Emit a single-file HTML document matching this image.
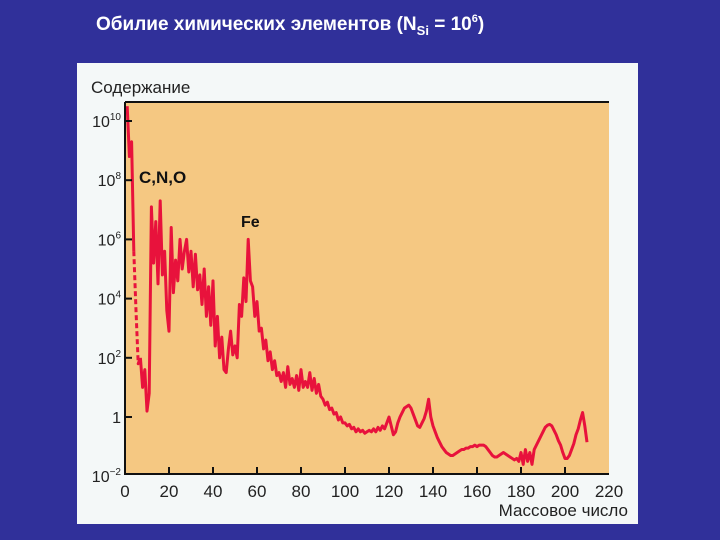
<!DOCTYPE html>
<html><head><meta charset="utf-8"><style>
body{margin:0;width:720px;height:540px;background:#30309a;overflow:hidden;font-family:"Liberation Sans","DejaVu Sans",sans-serif}
svg{position:absolute;left:0;top:0}
</style></head><body>
<svg width="720" height="540">
<text x="96" y="30" fill="#fff" font-size="19" font-weight="bold">Обилие химических элементов (N<tspan font-size="13" dy="5">Si</tspan><tspan dy="-5"> = 10</tspan><tspan font-size="11" dy="-8">6</tspan><tspan dy="8">)</tspan></text>
<rect x="77" y="63" width="561" height="461" fill="#f4f8f8"/>
<rect x="125" y="102" width="484" height="372" fill="#f5c882"/>
<text x="91" y="93" font-size="17" fill="#222">Содержание</text>
<text x="628" y="516" font-size="17" fill="#222" text-anchor="end">Массовое число</text>
<g id="series"></g>
<g id="axes"></g>
<text x="139" y="183" font-size="17" font-weight="bold" fill="#111">C,N,O</text>
<text x="241" y="227" font-size="16" font-weight="bold" fill="#111">Fe</text>
</svg>
<script>
const xTicks=[0,20,40,60,80,100,120,140,160,180,200,220];
const yTickExps=[10,8,6,4,2,0,-2];
const massStart=1;
const logAbund=[
10.5,8.8,9.3,5.6,3.6,1.8,2.0,1.0,1.6,0.2,
0.8,7.1,5.2,6.6,4.5,7.3,4.8,5.6,3.6,2.9,
6.4,4.2,5.3,4.6,6.0,5.0,5.6,6.0,4.9,5.6,
4.4,5.5,4.3,4.8,3.8,5.0,3.4,4.4,3.1,4.6,
2.4,3.4,2.0,2.7,1.6,1.5,2.3,2.9,2.1,2.4,
2.0,3.8,3.4,4.7,3.9,6.0,4.6,4.4,3.4,3.9,
2.9,3.0,2.3,2.6,1.9,2.2,1.6,1.9,1.4,1.5,
1.2,1.5,1.0,1.7,1.1,1.3,1.0,1.4,0.9,1.6,
1.0,1.2,1.0,1.5,0.9,1.3,0.8,1.1,0.7,0.6,
0.4,0.5,0.25,0.3,0.1,0.15,-0.1,0.0,-0.2,-0.2,
-0.3,-0.25,-0.4,-0.35,-0.5,-0.4,-0.5,-0.45,-0.55,-0.5,
-0.45,-0.5,-0.4,-0.5,-0.35,-0.45,-0.3,-0.4,-0.2,0.0,
-0.3,-0.6,-0.5,-0.2,0.0,0.15,0.3,0.35,0.4,0.3,
0.1,-0.1,-0.3,-0.35,-0.2,-0.05,0.2,0.6,0.0,-0.3,
-0.5,-0.7,-0.85,-1.0,-1.1,-1.2,-1.25,-1.3,-1.3,-1.25,
-1.2,-1.15,-1.1,-1.1,-1.05,-1.05,-1.0,-1.0,-0.95,-1.0,
-0.95,-0.95,-0.95,-1.0,-1.1,-1.2,-1.3,-1.35,-1.35,-1.3,
-1.25,-1.2,-1.25,-1.3,-1.35,-1.4,-1.45,-1.4,-1.5,-1.2,
-1.6,-1.1,-1.5,-1.2,-1.6,-1.1,-0.95,-0.8,-0.65,-0.5,
-0.35,-0.28,-0.25,-0.3,-0.45,-0.6,-0.8,-0.95,-1.2,-1.4,
-1.4,-1.3,-1.1,-0.9,-0.6,-0.4,-0.1,0.15,-0.3,-0.85];
const dashedFrom=4, dashedTo=6;
const X0=125,X1=609,YB=474,YT=102;
const sx=a=>X0+(a-0)*(X1-X0)/220;
const sy=l=>417-l*29.6;
const NS='http://www.w3.org/2000/svg';
const ser=document.getElementById('series');
function line(pts,dash){
  const p=document.createElementNS(NS,'polyline');
  p.setAttribute('points',pts.map(q=>q.join(',')).join(' '));
  p.setAttribute('fill','none');p.setAttribute('stroke','#e8123c');
  p.setAttribute('stroke-width','3');p.setAttribute('stroke-linejoin','round');
  if(dash)p.setAttribute('stroke-dasharray','5,3');
  
  
  ser.appendChild(p);
}
const pts=logAbund.map((v,i)=>[sx(massStart+i),sy(v)]);
line(pts.slice(0,dashedFrom-massStart+1),false);
line(pts.slice(dashedFrom-massStart,dashedTo-massStart+2),true);
line(pts.slice(dashedTo-massStart+1),false);
const ax=document.getElementById('axes');
function el(tag,attrs,txt){const e=document.createElementNS(NS,tag);for(const k in attrs)e.setAttribute(k,attrs[k]);if(txt!==undefined)e.textContent=txt;ax.appendChild(e);return e;}
const a1=el('path',{d:`M${X0},${YT}H${X1}M${X0},${YT}V${YB}H${X1}`,stroke:'#111','stroke-width':'2',fill:'none'});


xTicks.forEach(t=>{
  const x=sx(t);
  if(t>0&&t<220){const tk=el('line',{x1:x,x2:x,y1:YB,y2:YB-7,stroke:'#111','stroke-width':'2'});
  
  }
  const lb=el('text',{x:x,y:497,'font-size':'17','text-anchor':'middle',fill:'#222'},String(t));
  
  
});
yTickExps.forEach(e=>{
  const y=sy(e);
  if(e>-2){const tk=el('line',{x1:X0,x2:X0+7,y1:y,y2:y,stroke:'#111','stroke-width':'2'});
  
  }
  const t=el('text',{x:121,y:y+6,'font-size':'16','text-anchor':'end',fill:'#222'});
  
  
  if(e===0){t.textContent='1';}
  else{t.textContent='10';const s=document.createElementNS(NS,'tspan');s.setAttribute('dy','-7');s.setAttribute('font-size','10');s.textContent=e<0?'−'+(-e):String(e);t.appendChild(s);}
});
</script>
</body></html>
